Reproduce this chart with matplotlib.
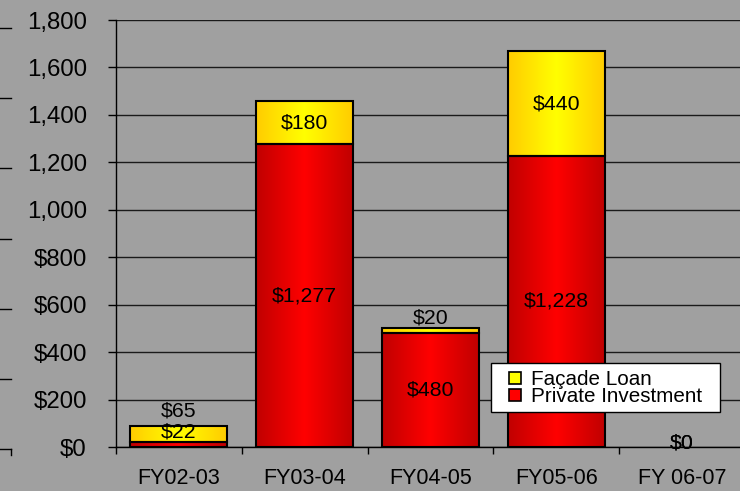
import numpy as np
import matplotlib
matplotlib.use("Agg")
import matplotlib.pyplot as plt
from matplotlib.lines import Line2D
from matplotlib.patches import Rectangle
from matplotlib.colors import LinearSegmentedColormap

# ---- data ----
categories = ["FY02-03", "FY03-04", "FY04-05", "FY05-06", "FY 06-07"]
private_investment = [22, 1277, 480, 1228, 0]
facade_loan = [65, 180, 20, 440, 0]
ytick_values = [0, 200, 400, 600, 800, 1000, 1200, 1400, 1600, 1800]
ytick_labels = ["$0", "$200", "$400", "$600", "$800", "1,000", "1,200", "1,400", "1,600", "1,800"]

# label vertical offsets (points) for crowded labels
private_label_dy = [9, 0, 0, 0, 3]
facade_label_dy = [16.5, 0, 9, 0, 3]

plt.rcParams['font.family'] = ['Liberation Sans', 'DejaVu Sans']
BG = '#A0A0A0'

fig = plt.figure(figsize=(7.4, 4.91), dpi=100, facecolor=BG)
W, H = 740, 491
ax = fig.add_axes([116 / W, 44 / H, 629 / W, 427 / H], facecolor=BG)

x = np.arange(len(categories))
width = 0.77

red_cmap = LinearSegmentedColormap.from_list('r', ['#C00000', '#FF0000', '#C00000'])
yel_cmap = LinearSegmentedColormap.from_list('y', ['#FFCC00', '#FFFF00', '#FFCC00'])
grad = np.linspace(0, 1, 256).reshape(1, -1)


def gradient_bars(bars, cmap):
    for p in bars:
        x0, y0 = p.get_x(), p.get_y()
        w, h = p.get_width(), p.get_height()
        if h <= 0:
            p.set_linewidth(0)
            continue
        im = ax.imshow(grad, cmap=cmap, aspect='auto', extent=(x0, x0 + w, y0, y0 + h),
                       zorder=2.5, interpolation='bicubic')
        im.set_clip_path(p)


b1 = ax.bar(x, private_investment, width, facecolor='none', edgecolor='black', linewidth=1.5, zorder=3)
b2 = ax.bar(x, facade_loan, width, bottom=private_investment, facecolor='none',
            edgecolor='black', linewidth=1.5, zorder=3)
gradient_bars(b1, red_cmap)
gradient_bars(b2, yel_cmap)

# data labels
for i in range(len(categories)):
    pv, fv = private_investment[i], facade_loan[i]
    ax.annotate(f"${pv:,}", (x[i], pv / 2), xytext=(0, private_label_dy[i]), textcoords='offset points',
                ha='center', va='center', fontsize=15.3, color='black', zorder=5)
    ax.annotate(f"${fv:,}", (x[i], pv + fv / 2), xytext=(0, facade_label_dy[i]), textcoords='offset points',
                ha='center', va='center', fontsize=15.3, color='black', zorder=5)

ax.set_xlim(-0.5, len(categories) - 0.5)
ax.set_ylim(0, 1800)
ax.set_yticks(ytick_values)
ax.set_yticklabels(ytick_labels, fontsize=17.3)
ax.yaxis.grid(True, color='#1a1a1a', linewidth=1.0)
ax.set_axisbelow(True)

ax.set_xticks(x)
ax.set_xticklabels(categories, fontsize=15.5)
ax.set_xticks(np.arange(-0.5, len(categories)), minor=True)
ax.tick_params(axis='x', which='major', length=0, pad=15)
ax.tick_params(axis='x', which='minor', length=5, width=1, direction='out', color='black')
ax.tick_params(axis='y', length=6, width=1, pad=15, direction='out', color='black')

for s in ['top', 'right']:
    ax.spines[s].set_visible(False)
for s in ['left', 'bottom']:
    ax.spines[s].set_color('black')
    ax.spines[s].set_linewidth(1.0)

# legend box (white frame) and entries
ax.add_patch(Rectangle((491 / W, 1 - 412 / H), 229 / W, 49 / H, transform=fig.transFigure,
                       facecolor='white', edgecolor='black', linewidth=1.0, zorder=5.5, clip_on=False))
handles = [
    Line2D([], [], linestyle='none', marker='s', markersize=9, markerfacecolor='#FFFF00',
           markeredgecolor='black', markeredgewidth=1.2),
    Line2D([], [], linestyle='none', marker='s', markersize=9, markerfacecolor='#FF0000',
           markeredgecolor='black', markeredgewidth=1.2),
]
leg = ax.legend(handles, ["Façade Loan", "Private Investment"], loc='center left',
                bbox_to_anchor=((507 - 116) / 629, (447 - 388) / 427), fontsize=14.9, frameon=False,
                borderpad=0, labelspacing=-0.08, handlelength=0.8, handletextpad=0.34, borderaxespad=0)
leg.set_zorder(6)

# fragments of a neighbouring axis at the left edge
for yy in [28, 98, 168, 239, 309, 379, 449]:
    fig.add_artist(Line2D([0, 11 / W], [1 - yy / H, 1 - yy / H], color='black', linewidth=1,
                          transform=fig.transFigure))
fig.add_artist(Line2D([11 / W, 11 / W], [1 - 449 / H, 1 - 455 / H], color='black', linewidth=1,
                      transform=fig.transFigure))

fig.savefig("out.png", dpi=100, facecolor=BG)
